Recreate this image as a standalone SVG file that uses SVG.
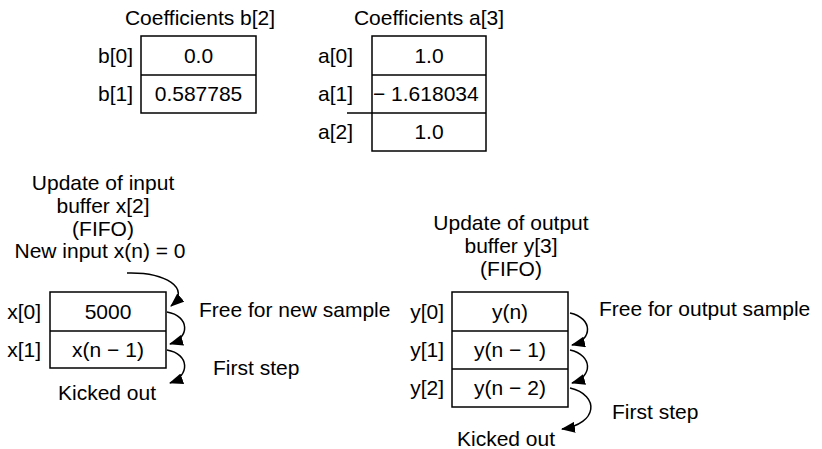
<svg xmlns="http://www.w3.org/2000/svg" width="822" height="449" viewBox="0 0 822 449">
<style>
text{font-family:"Liberation Sans",Arial,Helvetica,sans-serif;font-size:21px;fill:#000}
.m{text-anchor:middle}
.e{text-anchor:end}
.box{fill:#fff;stroke:#000;stroke-width:1.5}
.ln{stroke:#000;stroke-width:1.5;fill:none}
.arr{stroke:#000;stroke-width:1.5;fill:none;marker-end:url(#ah)}
</style>
<defs>
<marker id="ah" viewBox="0 0 14 11" refX="13" refY="5.5" markerWidth="14" markerHeight="11" markerUnits="userSpaceOnUse" orient="auto">
<path d="M0,0 L14,5.5 L0,11 z" fill="#000"/>
</marker>
</defs>
<rect width="822" height="449" fill="#fff"/>

<g id="coef-b">
<text class="m" x="200" y="25">Coefficients b[2]</text>
<rect class="box" x="141" y="36" width="115" height="77"/>
<line class="ln" x1="141" y1="75" x2="256" y2="75"/>
<text class="e" x="133" y="63">b[0]</text>
<text class="e" x="133" y="101">b[1]</text>
<text class="m" x="198.5" y="63">0.0</text>
<text class="m" x="198.5" y="101">0.587785</text>
</g>

<g id="coef-a">
<text class="m" x="429" y="25">Coefficients a[3]</text>
<rect class="box" x="372" y="36" width="114" height="115"/>
<line class="ln" x1="372" y1="75" x2="486" y2="75"/>
<line class="ln" x1="347" y1="113" x2="486" y2="113"/>
<text class="e" x="353" y="63">a[0]</text>
<text class="e" x="353" y="101">a[1]</text>
<text class="e" x="353" y="139">a[2]</text>
<text class="m" x="429" y="63">1.0</text>
<text x="373" y="101">− 1.618034</text>
<text class="m" x="429" y="139">1.0</text>
</g>

<g id="input-buffer">
<text class="m" x="103" y="190">Update of input</text>
<text class="m" x="103" y="213">buffer x[2]</text>
<text class="m" x="103" y="236">(FIFO)</text>
<text class="m" x="100" y="258">New input x(n) = 0</text>
<rect class="box" x="50" y="292" width="116" height="76"/>
<line class="ln" x1="50" y1="331" x2="166" y2="331"/>
<text class="e" x="41" y="319">x[0]</text>
<text class="e" x="41" y="357">x[1]</text>
<text class="m" x="108" y="319">5000</text>
<text class="m" x="108" y="357">x(n − 1)</text>
<text x="199" y="317">Free for new sample</text>
<text x="213" y="375">First step</text>
<text class="m" x="107" y="400">Kicked out</text>
</g>

<g id="output-buffer">
<text class="m" x="511" y="230">Update of output</text>
<text class="m" x="511" y="253">buffer y[3]</text>
<text class="m" x="511" y="276">(FIFO)</text>
<rect class="box" x="452" y="292" width="116" height="115"/>
<line class="ln" x1="452" y1="331" x2="568" y2="331"/>
<line class="ln" x1="452" y1="369" x2="568" y2="369"/>
<text class="e" x="444" y="319">y[0]</text>
<text class="e" x="444" y="357">y[1]</text>
<text class="e" x="444" y="395">y[2]</text>
<text class="m" x="510" y="319">y(n)</text>
<text class="m" x="510" y="357">y(n − 1)</text>
<text class="m" x="510" y="395">y(n − 2)</text>
<text x="599" y="316">Free for output sample</text>
<text x="612" y="419">First step</text>
<text x="457" y="446">Kicked out</text>
</g>

<g id="connectors">
<path class="arr" d="M127,273 C165,272 192,288 171,306"/>
<path class="arr" d="M167,312 C190,316 190,338 170,344"/>
<path class="arr" d="M167,350 C190,354 190,376 170,383"/>
<path class="arr" d="M570,313 C593,318 593,340 572,345"/>
<path class="arr" d="M570,350 C593,355 593,377 572,383"/>
<path class="arr" d="M570,388 C600,395 598,424 562,429"/>
</g>
</svg>
